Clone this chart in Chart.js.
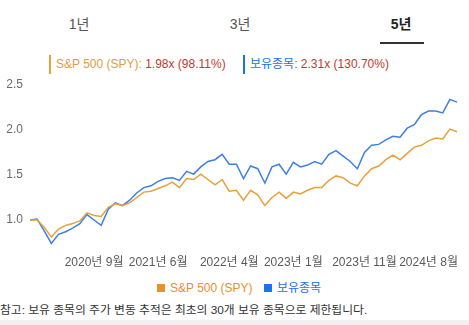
<!DOCTYPE html>
<html lang="ko">
<head>
<meta charset="utf-8">
<script src="https://cdn.jsdelivr.net/npm/chart.js@4/dist/chart.umd.min.js"></script>
<style>
  html, body { margin: 0; padding: 0; background: #fff; }
  body { width: 469px; height: 325px; position: relative; overflow: hidden;
         font-family: "Liberation Sans", Arial, "Noto Sans CJK KR", sans-serif; }
  .tab { position: absolute; top: 15px; font-size: 14px; color: #555; line-height: 18px;
         transform: translateX(-50%); white-space: nowrap; }
  .tab.active { color: #222; font-weight: bold; }
  .tab-line { position: absolute; left: 380px; top: 42px; width: 44px; height: 2px; background: #333; }
  .summary { position: absolute; top: 56px; font-size: 12px; line-height: 17px; white-space: nowrap; }
  .summary .bar { position: absolute; left: -7px; top: -1px; width: 2px; height: 19px; }
  .red { color: #c5392c; }
  #chartWrap { position: absolute; left: 0; top: 70px; width: 469px; height: 204px; }
  .legend { position: absolute; top: 280px; font-size: 12px; line-height: 16px; white-space: nowrap; }
  .legend .sq { position: absolute; left: -13px; top: 4px; width: 8px; height: 8px; }
  .note { position: absolute; left: 0; top: 302px; font-size: 11.8px; line-height: 16px; color: #333; white-space: nowrap; }
  .foot { position: absolute; left: 0; top: 320px; width: 469px; height: 5px; background: #f1f1f1; }
</style>
</head>
<body>
  <div class="tab" style="left:79px">1년</div>
  <div class="tab" style="left:240px">3년</div>
  <div class="tab active" style="left:401px">5년</div>
  <div class="tab-line"></div>

  <div class="summary" style="left:56px"><span class="bar" style="background:#e8a13a"></span><span style="color:#e39a45">S&amp;P 500 (SPY):</span> <span class="red">1.98x (98.11%)</span></div>
  <div class="summary" style="left:250px"><span class="bar" style="background:#1a73e8"></span><span style="color:#1a73e8">보유종목:</span> <span class="red">2.31x (130.70%)</span></div>

  <div id="chartWrap"><canvas id="chart" width="469" height="204"></canvas></div>

  <div class="legend" style="left:170px;color:#e8912a"><span class="sq" style="background:#e8912a"></span>S&amp;P 500 (SPY)</div>
  <div class="legend" style="left:277px;color:#1a73e8"><span class="sq" style="background:#1a73e8"></span>보유종목</div>

  <div class="note">참고: 보유 종목의 주가 변동 추적은 최초의 30개 보유 종목으로 제한됩니다.</div>
  <div class="foot"></div>

<script>
// Month-end points, Dec 2019 through Dec 2024
const months = [
  "2019-12",
  "2020-01","2020-02","2020-03","2020-04","2020-05","2020-06","2020-07","2020-08","2020-09","2020-10","2020-11","2020-12",
  "2021-01","2021-02","2021-03","2021-04","2021-05","2021-06","2021-07","2021-08","2021-09","2021-10","2021-11","2021-12",
  "2022-01","2022-02","2022-03","2022-04","2022-05","2022-06","2022-07","2022-08","2022-09","2022-10","2022-11","2022-12",
  "2023-01","2023-02","2023-03","2023-04","2023-05","2023-06","2023-07","2023-08","2023-09","2023-10","2023-11","2023-12",
  "2024-01","2024-02","2024-03","2024-04","2024-05","2024-06","2024-07","2024-08","2024-09","2024-10","2024-11","2024-12"
];

// Growth of 1 invested at the start
const spyGrowth = [
  1.00,
  1.00, 0.92, 0.81, 0.90, 0.94, 0.96, 0.99, 1.08, 1.05, 1.04, 1.14, 1.18,
  1.16, 1.19, 1.25, 1.31, 1.32, 1.35, 1.38, 1.42, 1.36, 1.46, 1.45, 1.51,
  1.45, 1.39, 1.45, 1.32, 1.33, 1.22, 1.33, 1.28, 1.16, 1.25, 1.31, 1.24,
  1.31, 1.29, 1.33, 1.36, 1.36, 1.44, 1.49, 1.47, 1.41, 1.38, 1.49, 1.57,
  1.60, 1.67, 1.72, 1.67, 1.74, 1.81, 1.83, 1.88, 1.91, 1.90, 2.01, 1.98
];
const holdingsGrowth = [
  1.00,
  1.01, 0.88, 0.74, 0.84, 0.87, 0.91, 0.96, 1.06, 1.00, 0.94, 1.12, 1.19,
  1.16, 1.22, 1.30, 1.36, 1.38, 1.43, 1.46, 1.47, 1.44, 1.54, 1.51, 1.59,
  1.65, 1.67, 1.73, 1.62, 1.62, 1.46, 1.60, 1.57, 1.41, 1.59, 1.62, 1.51,
  1.64, 1.59, 1.61, 1.65, 1.62, 1.73, 1.77, 1.71, 1.65, 1.57, 1.75, 1.83,
  1.84, 1.89, 1.93, 1.92, 2.02, 2.06, 2.17, 2.21, 2.21, 2.19, 2.34, 2.31
];

// Months shown on the time axis
const tickMonths = ["2020-09", "2021-06", "2022-04", "2023-01", "2023-11", "2024-08"];
// Growth multiples shown on the value axis
const valueTicks = [1.0, 1.5, 2.0, 2.5];

const seriesNames = ["S&P 500 (SPY)", "보유종목"];
const seriesColors = ["#e8a13a", "#3d7fe3"];

function monthLabel(m) {
  const [y, mo] = m.split("-");
  return y + "년 " + parseInt(mo, 10) + "월";
}

const fontFamily = '"Liberation Sans", Arial, "Noto Sans CJK KR", sans-serif';

new Chart(document.getElementById("chart"), {
  type: "line",
  data: {
    labels: months,
    datasets: [
      { label: seriesNames[0], data: spyGrowth, borderColor: seriesColors[0], backgroundColor: seriesColors[0],
        borderWidth: 1.5, pointRadius: 0, tension: 0, fill: false },
      { label: seriesNames[1], data: holdingsGrowth, borderColor: seriesColors[1], backgroundColor: seriesColors[1],
        borderWidth: 1.5, pointRadius: 0, tension: 0, fill: false }
    ]
  },
  options: {
    responsive: false,
    animation: false,
    devicePixelRatio: 1,
    layout: { padding: { top: 15, right: 12, left: 0, bottom: 0 } },
    plugins: { legend: { display: false }, tooltip: { enabled: false } },
    scales: {
      x: {
        type: "category",
        offset: false,
        grid: { display: false, drawTicks: false },
        border: { display: false },
        ticks: {
          autoSkip: false, maxRotation: 0, minRotation: 0, padding: 4,
          color: "#5a5a5a", font: { family: fontFamily, size: 12 },
          callback: function (v) { return monthLabel(this.getLabelForValue(v)); }
        },
        afterBuildTicks: (s) => { s.ticks = s.ticks.filter(t => tickMonths.includes(months[t.value])); },
        afterFit: (s) => { s.height = 22.5; }
      },
      y: {
        min: 0.65, max: 2.5,
        grid: { display: false, drawTicks: false },
        border: { display: false },
        ticks: {
          padding: 7, color: "#6b6b6b", font: { family: fontFamily, size: 12 },
          callback: (v) => Number(v).toFixed(1)
        },
        afterBuildTicks: (s) => { s.ticks = valueTicks.map(v => ({ value: v })); },
        afterFit: (s) => { s.width = 30; }
      }
    }
  }
});
</script>
</body>
</html>
